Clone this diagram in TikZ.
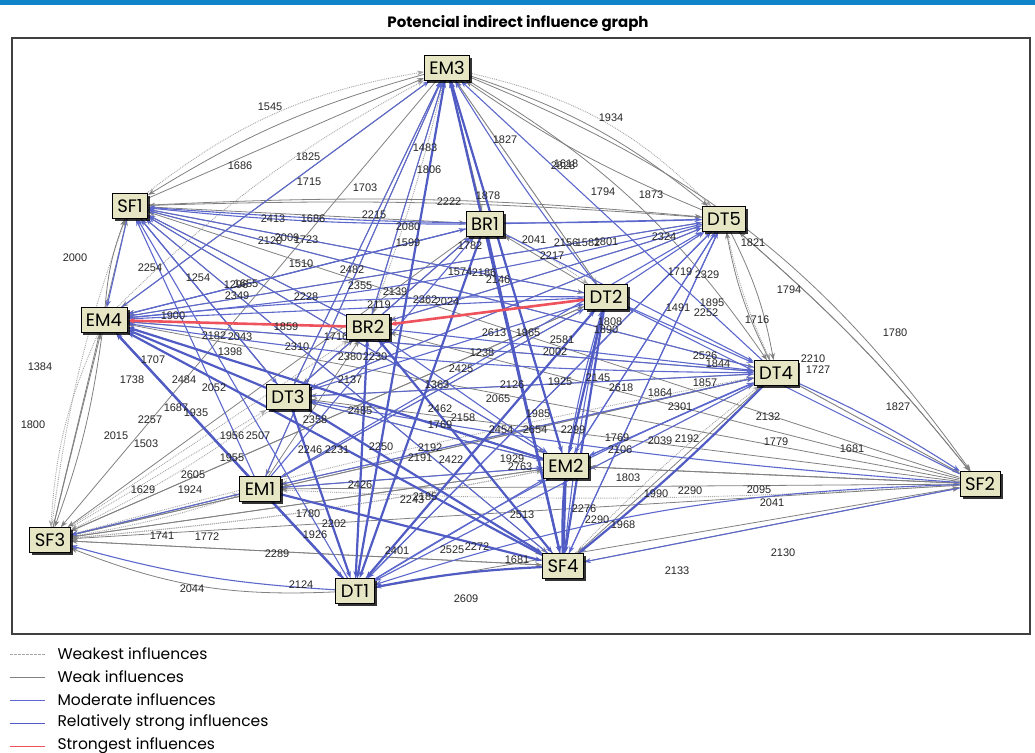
\documentclass[tikz,border=0pt]{standalone}
\usepackage{fontspec}
\setmainfont{Poppins}
\newfontfamily\numfont{Liberation Sans}
\usetikzlibrary{arrows.meta, shadows, positioning}
\definecolor{boxfill}{RGB}{230,230,196}
\definecolor{modblue}{RGB}{92,104,204}
\definecolor{strongblue}{RGB}{80,92,196}
\definecolor{weakgray}{RGB}{128,128,128}
\definecolor{faintgray}{RGB}{165,165,165}
\definecolor{redline}{RGB}{238,82,92}
\definecolor{barblue}{RGB}{16,132,200}
\pgfdeclarelayer{edges}
\pgfdeclarelayer{labels}
\pgfsetlayers{edges,labels,main}
\tikzset{
    factor/.style={draw=black, fill=boxfill, line width=0.8pt, inner xsep=5pt, inner ysep=3pt, minimum height=25pt, font=\fontsize{18}{18}\selectfont, drop shadow={shadow xshift=2.5pt, shadow yshift=-2.5pt, fill=black, opacity=0.8}},
    weakest/.style={faintgray, densely dotted, line width=0.9pt},
    weakestkey/.style={faintgray, dash pattern=on 2.5pt off 1.5pt},
    weak/.style={weakgray, line width=0.8pt},
    moderate/.style={modblue, line width=1.1pt},
    strong/.style={strongblue, line width=2.2pt},
    strongest/.style={redline, line width=2.6pt},
    tip/.style={-{Stealth[length=7pt, width=5pt]}},
    val/.style={font=\numfont\fontsize{11}{11}\selectfont, text=black!85, inner sep=0pt},
    legend/.style={right, text=black, font=\fontsize{15.5}{15.5}\selectfont, inner sep=0pt, xshift=12pt}
}
\begin{document}
\begin{tikzpicture}[x=1pt, y=-1pt]
    \useasboundingbox (0,0) rectangle (1035,752);
    \fill[barblue] (0,0) rectangle (1035,5);
    \node[font=\bfseries\fontsize{15}{15}\selectfont] (title) at (518,24) {Potencial indirect influence graph};
    \draw[line width=1.3pt, black!75] (12,38) rectangle (1030,634);

    % factors
    \node[factor] (EM3) at (447,68) {EM3};
    \node[factor] (SF1) at (130,206) {SF1};
    \node[factor] (BR1) at (485,224) {BR1};
    \node[factor] (DT5) at (724,219) {DT5};
    \node[factor] (DT2) at (606,297) {DT2};
    \node[factor] (EM4) at (104,320) {EM4};
    \node[factor] (BR2) at (368,327) {BR2};
    \node[factor] (DT4) at (776,373) {DT4};
    \node[factor] (DT3) at (288,397) {DT3};
    \node[factor] (EM2) at (566,466) {EM2};
    \node[factor] (SF2) at (980,484) {SF2};
    \node[factor] (EM1) at (260,489) {EM1};
    \node[factor] (SF3) at (50,540) {SF3};
    \node[factor] (SF4) at (563,566) {SF4};
    \node[factor] (DT1) at (355,591) {DT1};

    \begin{pgfonlayer}{edges}
    % weakest
    \foreach \a/\b/\bend in {SF1/EM3/14, EM4/EM3/8, SF3/SF1/6, SF3/DT3/0, SF3/BR2/0, EM3/BR1/0, EM3/DT2/0, EM3/DT5/16, DT5/DT4/-6, DT4/SF2/0, SF2/EM2/0, SF2/EM1/3, EM1/SF3/4, DT3/SF3/5, EM2/SF3/3, DT1/DT4/0, SF4/DT4/4, EM4/SF3/-10, SF3/EM1/0, BR1/DT2/5, EM3/BR2/3, SF3/EM2/-3, SF3/DT4/2}
        \draw[tip, weakest] (\a) to[bend left=\bend] (\b);
    % weak
    \foreach \a/\b/\bend in {EM3/DT5/10, EM3/DT4/12, EM3/SF2/16, EM3/SF1/-8, EM3/EM4/0, SF1/DT5/4, SF1/BR1/0, SF1/DT2/0, SF1/DT4/0, SF1/EM3/0, EM4/SF1/8, SF3/EM4/0, SF3/SF1/0, EM4/SF3/6, SF3/DT2/0, DT5/DT4/8, DT4/DT5/8, DT5/SF2/5, DT4/SF2/0, SF2/EM1/0, SF2/EM2/0, SF2/DT3/0, SF2/SF3/0, SF2/BR2/0, SF2/EM4/0, BR1/EM3/0, BR1/EM4/0, BR1/DT3/0, DT2/SF3/0, DT2/EM1/0, EM2/SF3/0, SF4/SF3/0, DT1/SF3/12, EM1/SF3/0, DT4/EM4/0, DT4/SF3/0, DT5/EM4/0, DT2/EM3/0, EM2/EM1/0, DT4/EM1/0, DT4/DT3/0, DT3/SF1/0, BR2/SF1/0, BR2/BR1/0, DT2/BR1/0, EM2/DT3/0, DT4/SF4/0, SF2/DT5/-5, DT5/SF1/-3, BR1/SF3/0, EM3/SF3/0, DT5/EM3/6, EM3/BR2/0, EM3/DT3/0, EM3/EM1/0, SF1/SF4/0, SF1/EM2/0, EM4/EM2/0, EM4/SF4/0, SF3/SF4/0, SF3/EM2/0, SF3/DT4/0, DT5/DT3/0, DT5/BR2/0, SF2/SF1/0, SF4/SF2/0, EM2/SF2/0, DT1/SF2/0, EM1/BR2/0, DT3/BR2/0}
        \draw[tip, weak] (\a) to[bend left=\bend] (\b);
    % moderate
    \foreach \a/\b/\bend in {BR2/SF1/0, DT3/SF1/0, DT2/SF1/0, DT4/SF1/0, EM2/SF1/0, SF1/EM4/0, SF4/SF1/0, BR2/EM3/0, DT3/EM3/0, EM1/EM3/0, DT1/EM3/0, SF4/EM3/0, EM2/EM3/0, EM4/EM3/0, BR2/DT5/0, DT3/DT5/0, EM1/DT5/0, DT1/DT5/0, SF4/DT5/0, EM2/DT5/0, BR1/DT5/0, DT2/DT5/0, EM4/DT5/0, DT3/DT4/0, BR2/DT4/0, EM1/DT4/0, DT1/DT4/4, EM2/DT4/0, EM4/DT4/0, DT2/DT4/0, EM1/DT2/0, DT3/DT2/0, BR1/EM4/0, DT5/EM4/4, DT4/EM4/4, DT2/EM4/-3, DT3/EM2/0, BR2/EM2/0, EM1/EM2/0, DT1/EM2/0, EM4/EM2/0, SF2/SF4/0, SF2/DT1/-8, SF2/DT2/0, SF2/DT3/3, EM1/SF3/0, DT1/SF3/6, DT3/BR1/0, EM1/BR1/0, EM4/DT2/0, SF4/BR2/0, DT4/DT1/0, DT5/DT1/0, DT5/SF4/0, DT4/SF2/4, SF1/DT3/0, EM4/BR1/0, BR1/SF1/3, DT5/SF1/3, DT1/SF1/0, EM1/SF1/0, DT2/EM3/3, DT4/EM3/0, BR1/DT4/0, SF4/DT2/3, DT1/DT2/0, EM2/DT2/3, DT5/EM2/0, DT4/EM2/0, DT1/BR2/0}
        \draw[tip, moderate] (\a) to[bend left=\bend] (\b);
    % relatively strong
    \foreach \a/\b/\bend in {EM1/EM4/0, DT3/EM4/0, DT1/EM4/0, SF4/EM4/0, EM2/EM4/0, BR2/DT1/0, DT2/DT1/0, SF4/DT1/-4, DT3/DT1/0, EM1/DT1/0, EM2/SF4/0, DT2/SF4/0, DT2/EM2/0, BR1/SF4/0, BR1/DT1/0, EM3/SF4/0, EM3/EM2/0, DT3/SF4/0, BR2/SF4/0, DT4/SF4/3, EM3/DT1/0, EM1/SF4/0, SF4/EM2/3}
        \draw[tip, strong] (\a) to[bend left=\bend] (\b);
    % strongest
    \draw[tip, strongest] (DT2) -- (BR2);
    \draw[tip, strongest] (BR2) -- (EM4);
    \end{pgfonlayer}

    \begin{pgfonlayer}{labels}
    \foreach \x/\y/\t [count=\i] in {270/107/1545, 240/166/1686, 308/157/1825, 309/182/1715, 365/188/1703, 425/148/1483, 429/170/1806, 505/140/1827, 611/118/1934, 563/166/2828, 566/164/1618, 603/192/1794, 651/195/1873, 449/202/2222, 488/196/1878, 75/258/2000, 273/219/2413, 313/219/1686, 374/215/2215, 408/227/2080, 270/241/2120, 287/238/2009, 306/240/1723, 301/264/1510, 150/268/2254, 198/278/1254, 236/285/1296, 246/284/1655, 237/296/2349, 306/297/2228, 173/316/1900, 286/327/1859, 297/347/2310, 214/336/2182, 240/337/2043, 230/352/1398, 153/360/1707, 132/380/1738, 184/380/2484, 214/388/2052, 40/367/1384, 33/425/1800, 150/420/2257, 176/408/1687, 196/413/1935, 116/436/2015, 146/444/1503, 232/436/1956, 258/436/2507, 232/458/1955, 193/475/2605, 143/490/1629, 190/490/1924, 162/536/1741, 207/537/1772, 277/554/2289, 192/589/2044, 301/585/2124, 397/551/2401, 452/550/2525, 477/547/2272, 517/560/1681, 466/599/2609, 522/515/2513, 584/509/2276, 597/520/2290, 623/525/1968, 628/478/1803, 656/494/1990, 690/491/2290, 759/490/2095, 772/503/2041, 783/553/2130, 677/571/2133, 768/417/2132, 776/442/1779, 852/449/1681, 898/407/1827, 895/333/1780, 789/290/1794, 757/320/1716, 753/243/1821, 813/359/2210, 818/370/1727, 705/383/1857, 680/407/2301, 687/439/2192, 660/441/2039, 620/450/2106, 617/438/1769, 660/393/1864, 621/388/2618, 705/356/2526, 718/364/1844, 678/308/1491, 706/313/2252, 712/303/1895, 680/272/1719, 707/275/2329, 664/237/2324, 534/240/2041, 566/243/2156, 588/243/1582, 606/242/1801, 552/256/2217, 498/280/2146, 460/272/1574, 484/273/2186, 470/246/1782, 408/243/1599, 352/270/2482, 360/286/2355, 379/305/2119, 395/292/2139, 425/300/2362, 447/302/2024, 336/337/1716, 350/357/2380, 375/357/2230, 482/353/1238, 461/369/2425, 494/333/2613, 528/333/1965, 562/340/2581, 555/352/2002, 610/322/1808, 606/330/1890, 350/380/2137, 437/385/1363, 498/399/2065, 440/409/2462, 538/414/1985, 501/430/2454, 535/430/2654, 573/430/2299, 598/378/2145, 451/460/2422, 360/485/2426, 337/450/2231, 381/447/2250, 308/514/1780, 334/524/2202, 315/535/1926, 310/450/2246, 315/420/2358, 360/411/2485, 420/458/2191, 430/448/2192, 512/459/1929, 520/467/2763, 425/497/2185, 412/500/2243, 560/382/1925, 512/385/2126, 463/418/2158, 440/425/1769}
        \node[val] (v\i) at (\x,\y) {\t};
    \end{pgfonlayer}

    % legend
    \foreach \s/\t [count=\i] in {weakestkey/Weakest influences, weak/Weak influences, moderate/Moderate influences, strong/Relatively strong influences, strongest/Strongest influences}
        \draw[\s, line width=1pt] (10,631+23*\i) coordinate (ls\i) -- ++(35,0) node[legend] (lg\i) {\t};
\end{tikzpicture}
\end{document}
